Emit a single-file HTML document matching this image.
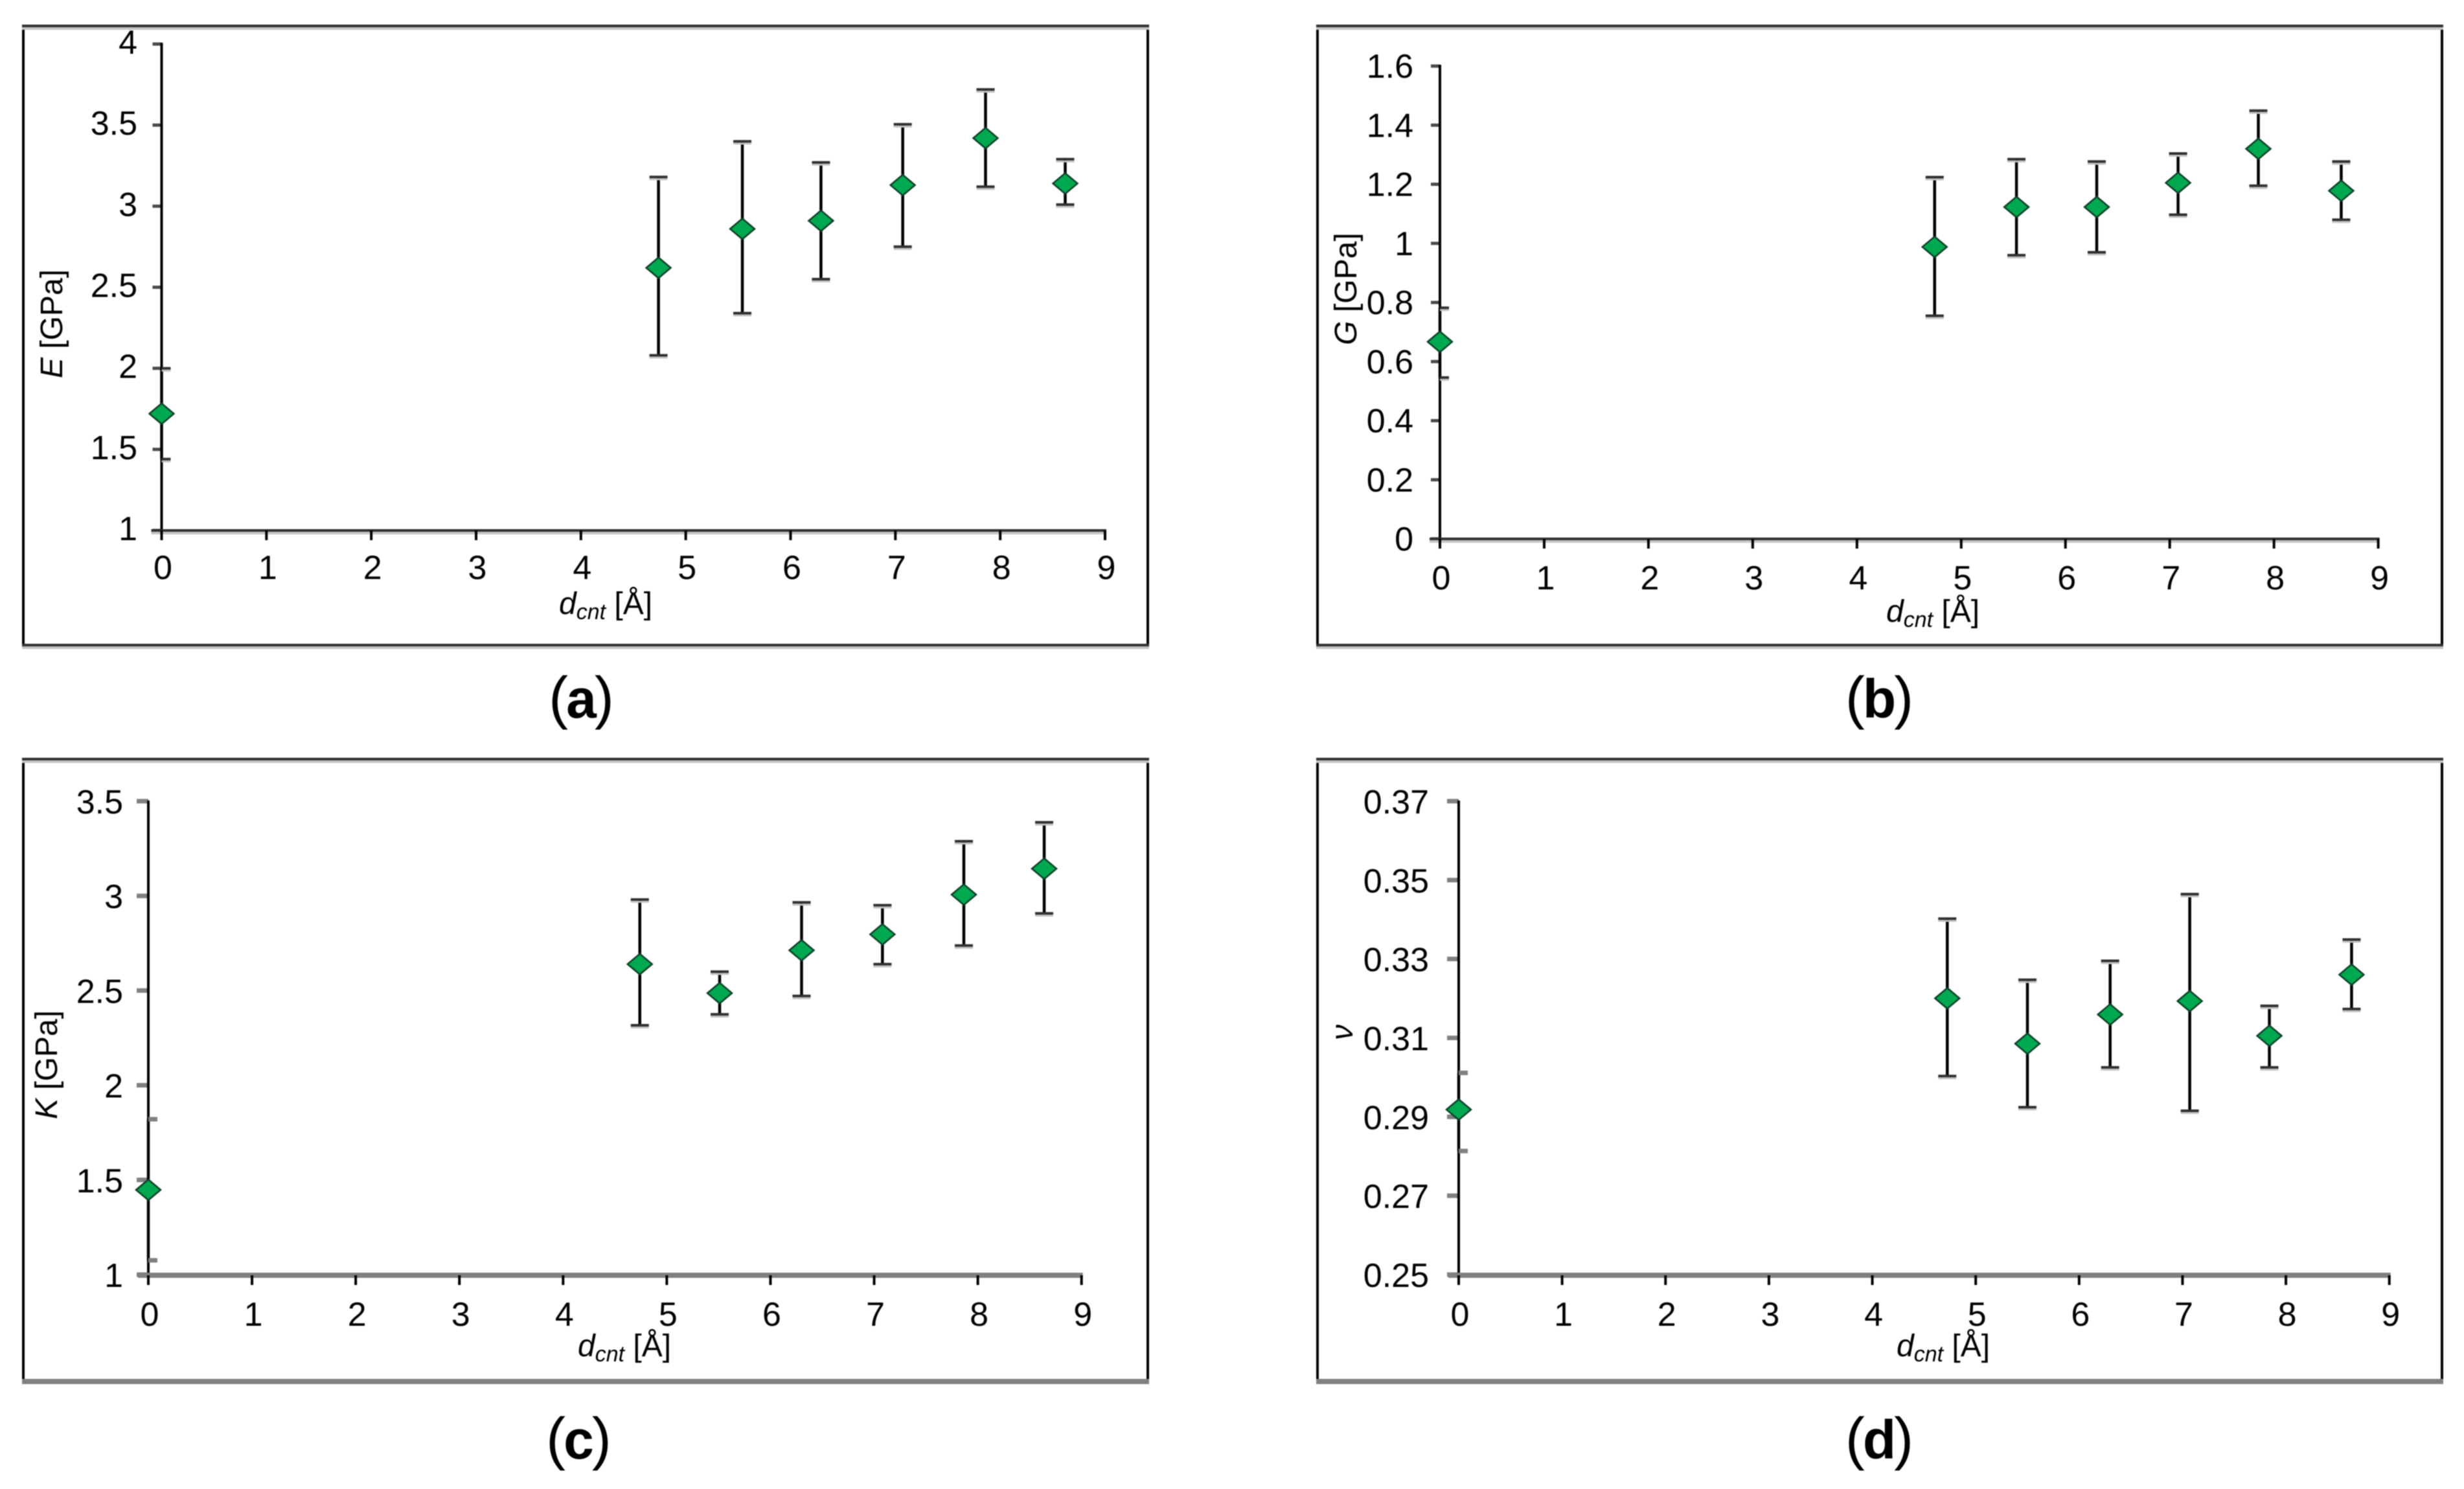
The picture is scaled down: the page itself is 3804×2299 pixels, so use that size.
<!DOCTYPE html>
<html>
<head>
<meta charset="utf-8">
<title>Elastic moduli versus nanotube diameter</title>
<style>
html,body{margin:0;padding:0;background:#fff;width:3804px;height:2299px;overflow:hidden}
svg{display:block;filter:blur(0.7px)}
text{font-family:"Liberation Sans",sans-serif;fill:#000}
</style>
</head>
<body>
<svg id="figure" xmlns="http://www.w3.org/2000/svg" width="3804" height="2299" viewBox="0 0 3804 2299"></svg>
<script>
// ---- shared data ----
const xTicks = [0,1,2,3,4,5,6,7,8,9];
const xTickLabels = ["0","1","2","3","4","5","6","7","8","9"];

// ---- panel (a) E ----
const xA = [0,4.74,5.54,6.29,7.07,7.86,8.62];
const meanA = [1.72,2.62,2.86,2.91,3.13,3.42,3.14];
const upperA = [2.0,3.18,3.40,3.27,3.505,3.72,3.29];
const lowerA = [1.44,2.08,2.34,2.55,2.75,3.12,3.01];
const yTicksA = [1,1.5,2,2.5,3,3.5,4];
const yLabelsA = ["1","1.5","2","2.5","3","3.5","4"];

// ---- panel (b) G ----
const xB = [0,4.745,5.53,6.3,7.08,7.85,8.645];
const meanB = [0.667,0.988,1.123,1.123,1.205,1.32,1.178];
const upperB = [0.782,1.224,1.285,1.277,1.304,1.449,1.277];
const lowerB = [0.546,0.755,0.96,0.97,1.097,1.195,1.08];
const yTicksB = [0,0.2,0.4,0.6,0.8,1,1.2,1.4,1.6];
const yLabelsB = ["0","0.2","0.4","0.6","0.8","1","1.2","1.4","1.6"];

// ---- panel (c) K ----
const xC = [0,4.74,5.51,6.3,7.08,7.865,8.64];
const meanC = [1.451,2.643,2.49,2.716,2.80,3.01,3.147];
const upperC = [1.824,2.984,2.603,2.969,2.954,3.292,3.392];
const lowerC = [1.079,2.32,2.378,2.475,2.643,2.741,2.911];
const yTicksC = [1,1.5,2,2.5,3,3.5];
const yLabelsC = ["1","1.5","2","2.5","3","3.5"];

// ---- panel (d) nu ----
const xD = [0,4.725,5.5,6.3,7.07,7.84,8.635];
const meanD = [0.292,0.3202,0.3087,0.3161,0.3195,0.3107,0.3262];
const upperD = [0.3013,0.3404,0.3249,0.3297,0.3466,0.3183,0.3351];
const lowerD = [0.2815,0.3005,0.2926,0.3027,0.2917,0.3027,0.3175];
const yTicksD = [0.25,0.27,0.29,0.31,0.33,0.35,0.37];
const yLabelsD = ["0.25","0.27","0.29","0.31","0.33","0.35","0.37"];

const SVGNS = "http://www.w3.org/2000/svg";
const fig = document.getElementById("figure");

function addLine(parent, x1, y1, x2, y2, color, width) {
  const l = document.createElementNS(SVGNS, "line");
  l.setAttribute("x1", x1);
  l.setAttribute("y1", y1);
  l.setAttribute("x2", x2);
  l.setAttribute("y2", y2);
  l.setAttribute("stroke", color);
  l.setAttribute("stroke-width", width);
  parent.appendChild(l);
  return l;
}

function addText(parent, x, y, str, size, anchor) {
  const t = document.createElementNS(SVGNS, "text");
  t.setAttribute("x", x);
  t.setAttribute("y", y);
  t.setAttribute("font-size", size);
  t.setAttribute("text-anchor", anchor);
  t.textContent = str;
  parent.appendChild(t);
  return t;
}

function addSpan(parent, str, attrs) {
  const s = document.createElementNS(SVGNS, "tspan");
  for (const k in attrs) s.setAttribute(k, attrs[k]);
  s.textContent = str;
  parent.appendChild(s);
  return s;
}

function hBand(parent, x1, x2, y, heavyGray) {
  // horizontal strokes carry a resampling shadow in the source image
  if (heavyGray) {
    return addLine(parent, x1, y + 2, x2, y + 2, "#808080", 8);
  }
  addLine(parent, x1, y + 4, x2, y + 4, "#c4c4c4", 4);
  return addLine(parent, x1, y, x2, y, "#303030", 4);
}

function drawPanel(cfg) {
  const g = document.createElementNS(SVGNS, "g");
  
  
  fig.appendChild(g);

  const yMin = cfg.yTicks[0];
  const yMax = cfg.yTicks[cfg.yTicks.length - 1];
  const xScale = v => cfg.x0 + (v / 9) * (cfg.x9 - cfg.x0);
  const yScale = v => cfg.yBottom - ((v - yMin) / (yMax - yMin)) * (cfg.yBottom - cfg.yTop);

  // frame
  const frame = document.createElementNS(SVGNS, "g");
  
  
  g.appendChild(frame);
  addLine(frame, cfg.frameL, cfg.frameT - 2, cfg.frameL, cfg.frameB + 4, "#000", 4);
  addLine(frame, cfg.frameR, cfg.frameT - 2, cfg.frameR, cfg.frameB + 4, "#000", 4);
  hBand(frame, cfg.frameL - 2, cfg.frameR + 2, cfg.frameT, false);
  hBand(frame, cfg.frameL - 2, cfg.frameR + 2, cfg.frameB, cfg.heavy);

  // y axis + ticks
  const yAxis = document.createElementNS(SVGNS, "g");
  
  
  g.appendChild(yAxis);
  cfg.yTicks.forEach((v, i) => {
    const tick = cfg.heavy
      ? addLine(yAxis, cfg.x0 - 18, yScale(v) - 1, cfg.x0, yScale(v) - 1, "#808080", 7)
      : addLine(yAxis, cfg.x0 - 14, yScale(v), cfg.x0, yScale(v), "#4a4a4a", 5);
    
    
    const lab = addText(yAxis, cfg.labelRight, yScale(v) + 18 + cfg.labelDy, cfg.yLabels[i], 52, "end");
    
    
  });

  // x axis + ticks
  const xAxis = document.createElementNS(SVGNS, "g");
  
  
  g.appendChild(xAxis);
  hBand(xAxis, cfg.x0 - 16, cfg.x9 + 2, cfg.yBottom - (cfg.heavy ? 2 : 0), cfg.heavy);
  xTicks.forEach((v, i) => {
    const tick = addLine(xAxis, xScale(v), cfg.yBottom, xScale(v), cfg.yBottom + 15, "#000", 4);
    
    
    const lab = addText(xAxis, xScale(v) + 2, cfg.xLabelBase, xTickLabels[i], 52, "middle");
    
    
  });
  addLine(yAxis, cfg.x0, cfg.yTop - 2, cfg.x0, cfg.yBottom + 15, "#000", 4);

  // axis titles
  const xt = addText(g, cfg.xTitleX, cfg.xTitleBase, "", 48, "start");
  
  
  addSpan(xt, "d", {"font-style": "italic"});
  addSpan(xt, "cnt", {"font-style": "italic", "font-size": 34, "dy": 8});
  addSpan(xt, " [Å]", {"dy": -8});

  const yt = addText(g, 0, 0, "", 48, "middle");
  yt.setAttribute("transform", "translate(" + cfg.yTitleX + "," + cfg.yTitleY + ") rotate(-90)");
  
  
  addSpan(yt, cfg.yTitle, {"font-style": "italic"});
  addSpan(yt, cfg.yUnit, {});

  // series
  const series = document.createElementNS(SVGNS, "g");
  
  
  g.appendChild(series);
  cfg.xs.forEach((v, i) => {
    const px = xScale(v);
    const yUp = yScale(cfg.upper[i]);
    const yLo = yScale(cfg.lower[i]);
    const yM = yScale(cfg.mean[i]);
    const bar = addLine(series, px, yUp, px, yLo, "#000", 4.5);
    
    
    // caps are clipped by the plot edge for the point lying on the axis
    const capL = Math.max(px - 14, cfg.x0);
    const capR = px + 14;
    [yUp, yLo].forEach(cy => {
      const onAxis = (capL === cfg.x0);
      if (onAxis && cfg.heavy) {
        const c = addLine(series, capL, cy, capR, cy, "#808080", 7);
        
        
      } else {
        addLine(series, capL, cy + 3.5, capR, cy + 3.5, "#c4c4c4", 3);
        const c = addLine(series, capL, cy, capR, cy, "#303030", 4);
        
        
      }
    });
    const d = document.createElementNS(SVGNS, "polygon");
    d.setAttribute("points", [[px, yM - 16], [px + 19, yM], [px, yM + 16], [px - 19, yM]].map(p => p.join(",")).join(" "));
    d.setAttribute("fill", "#00a84f");
    d.setAttribute("stroke", "#0d3d26");
    d.setAttribute("stroke-width", 2.5);
    
    
    series.appendChild(d);
  });

  // caption
  const cap = addText(g, cfg.capX, cfg.capBase, "", 90, "middle");
  cap.setAttribute("letter-spacing", "-3");
  
  
  addSpan(cap, "(", {});
  addSpan(cap, cfg.id, {"font-weight": "bold", "font-size": 84});
  addSpan(cap, ")", {});
}

drawPanel({
  id: "a", xs: xA, mean: meanA, upper: upperA, lower: lowerA, yTicks: yTicksA, yLabels: yLabelsA,
  x0: 249.5, x9: 1706, yTop: 68, yBottom: 819,
  frameL: 36, frameR: 1772, frameT: 40, frameB: 996, heavy: false,
  labelRight: 212, labelDy: -3, xLabelBase: 894,
  xTitleX: 863, xTitleBase: 948, yTitleX: 96, yTitleY: 500, yTitle: "E", yUnit: " [GPa]",
  capX: 896, capBase: 1108
});
drawPanel({
  id: "b", xs: xB, mean: meanB, upper: upperB, lower: lowerB, yTicks: yTicksB, yLabels: yLabelsB,
  x0: 2223, x9: 3671.6, yTop: 102, yBottom: 832,
  frameL: 2034, frameR: 3770, frameT: 40, frameB: 996, heavy: false,
  labelRight: 2182, labelDy: 0, xLabelBase: 910,
  xTitleX: 2912, xTitleBase: 960, yTitleX: 2094, yTitleY: 446, yTitle: "G", yUnit: " [GPa]",
  capX: 2900, capBase: 1108
});
drawPanel({
  id: "c", xs: xC, mean: meanC, upper: upperC, lower: lowerC, yTicks: yTicksC, yLabels: yLabelsC,
  x0: 229, x9: 1669.7, yTop: 1238, yBottom: 1969,
  frameL: 36, frameR: 1772, frameT: 1172, frameB: 2131, heavy: true,
  labelRight: 190, labelDy: 0, xLabelBase: 2047,
  xTitleX: 892, xTitleBase: 2094, yTitleX: 88, yTitleY: 1644, yTitle: "K", yUnit: " [GPa]",
  capX: 892, capBase: 2252
});
drawPanel({
  id: "d", xs: xD, mean: meanD, upper: upperD, lower: lowerD, yTicks: yTicksD, yLabels: yLabelsD,
  x0: 2252, x9: 3688.7, yTop: 1238, yBottom: 1969,
  frameL: 2034, frameR: 3770, frameT: 1172, frameB: 2131, heavy: true,
  labelRight: 2206, labelDy: 0, xLabelBase: 2047,
  xTitleX: 2928, xTitleBase: 2094, yTitleX: 2088, yTitleY: 1594, yTitle: "ν", yUnit: "",
  capX: 2900, capBase: 2252
});
</script>
</body>
</html>
